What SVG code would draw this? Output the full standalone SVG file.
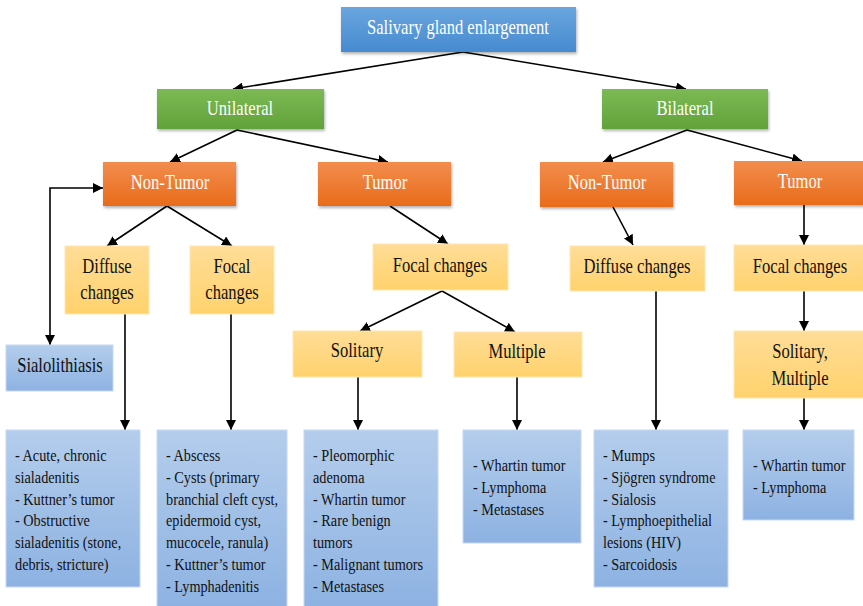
<svg xmlns="http://www.w3.org/2000/svg" width="863" height="606" viewBox="0 0 863 606">
<defs>
<linearGradient id="gBlue" x1="0" y1="0" x2="0" y2="1"><stop offset="0" stop-color="#6aa6de"/><stop offset="1" stop-color="#468ad0"/></linearGradient>
<linearGradient id="gGreen" x1="0" y1="0" x2="0" y2="1"><stop offset="0" stop-color="#7cb955"/><stop offset="1" stop-color="#62a23a"/></linearGradient>
<linearGradient id="gOrange" x1="0" y1="0" x2="0" y2="1"><stop offset="0" stop-color="#f28d4e"/><stop offset="1" stop-color="#e96c1a"/></linearGradient>
<linearGradient id="gYellow" x1="0" y1="0" x2="0" y2="1"><stop offset="0" stop-color="#ffdd98"/><stop offset="1" stop-color="#ffd26c"/></linearGradient>
<linearGradient id="gLight" x1="0" y1="0" x2="0" y2="1"><stop offset="0" stop-color="#b4cdec"/><stop offset="1" stop-color="#8db2e2"/></linearGradient>
<filter id="sh" x="-10%" y="-10%" width="130%" height="140%"><feDropShadow dx="1" dy="2" stdDeviation="1.5" flood-color="#000" flood-opacity="0.3"/></filter>
<marker id="ah" viewBox="0 0 10 10" refX="10" refY="5" markerWidth="10" markerHeight="10" markerUnits="userSpaceOnUse" orient="auto"><path d="M0,0 L10,5 L0,10 z" fill="#000"/></marker>
<marker id="ahs" viewBox="0 0 10 10" refX="10" refY="5" markerWidth="10" markerHeight="10" markerUnits="userSpaceOnUse" orient="auto-start-reverse"><path d="M0,0 L10,5 L0,10 z" fill="#000"/></marker>
</defs>
<style>
.hd{font-family:"Liberation Serif","Times New Roman",serif;font-size:21px;fill:#fff;text-anchor:middle}
.yd{font-family:"Liberation Serif","Times New Roman",serif;font-size:21px;fill:#111;text-anchor:middle}
.ls{font-family:"Liberation Serif","Times New Roman",serif;font-size:17px;fill:#111}
.blue{fill:url(#gBlue);filter:url(#sh)}
.green{fill:url(#gGreen);filter:url(#sh)}
.orange{fill:url(#gOrange);filter:url(#sh)}
.yellow{fill:url(#gYellow);stroke:#ffe7b0;stroke-width:1}
.light{fill:url(#gLight);stroke:#c6d9f1;stroke-width:1}
.cn{stroke:#000;stroke-width:1.6;fill:none;marker-end:url(#ah)}
</style>
<rect width="863" height="606" fill="#fff"/>

<g id="connectors">
<line class="cn" x1="463" y1="52" x2="233" y2="89"/>
<line class="cn" x1="463" y1="52" x2="686" y2="89"/>
<line class="cn" x1="237" y1="130" x2="170" y2="162"/>
<line class="cn" x1="237" y1="130" x2="388" y2="162"/>
<line class="cn" x1="687" y1="130" x2="603" y2="162"/>
<line class="cn" x1="687" y1="130" x2="802" y2="161"/>
<line class="cn" x1="167" y1="206" x2="107" y2="246"/>
<line class="cn" x1="167" y1="206" x2="232" y2="246"/>
<path d="M50,345 L50,188 L103,188" style="stroke:#000;stroke-width:1.6;fill:none;marker-start:url(#ahs);marker-end:url(#ah)"/>
<line class="cn" x1="390" y1="206" x2="448" y2="244"/>
<line class="cn" x1="442" y1="291" x2="360" y2="331"/>
<line class="cn" x1="442" y1="291" x2="515" y2="332"/>
<line class="cn" x1="613" y1="207" x2="633" y2="245"/>
<line class="cn" x1="804" y1="205" x2="804" y2="245"/>
<line class="cn" x1="804" y1="291" x2="804" y2="331"/>
<line class="cn" x1="125" y1="314" x2="125" y2="430"/>
<line class="cn" x1="231" y1="314" x2="231" y2="430"/>
<line class="cn" x1="358" y1="377" x2="358" y2="430"/>
<line class="cn" x1="517" y1="377" x2="517" y2="430"/>
<line class="cn" x1="656" y1="291" x2="656" y2="430"/>
<line class="cn" x1="804" y1="398" x2="804" y2="430"/>
</g>

<g id="n-root"><rect class="blue" x="341" y="7" width="235" height="45"/><text class="hd" transform="translate(458,34) scale(0.79,1)">Salivary gland enlargement</text></g>
<g id="n-unilateral"><rect class="green" x="157" y="89" width="167" height="40"/><text class="hd" transform="translate(240,115) scale(0.79,1)">Unilateral</text></g>
<g id="n-bilateral"><rect class="green" x="602" y="89" width="166" height="40"/><text class="hd" transform="translate(685,115) scale(0.79,1)">Bilateral</text></g>
<g id="n-nontumor-l"><rect class="orange" x="103" y="162" width="133" height="44"/><text class="hd" transform="translate(170,189) scale(0.79,1)">Non-Tumor</text></g>
<g id="n-tumor-l"><rect class="orange" x="318" y="162" width="133" height="44"/><text class="hd" transform="translate(385,189) scale(0.79,1)">Tumor</text></g>
<g id="n-nontumor-r"><rect class="orange" x="540" y="162" width="133" height="45"/><text class="hd" transform="translate(607,189) scale(0.79,1)">Non-Tumor</text></g>
<g id="n-tumor-r"><rect class="orange" x="734" y="161" width="135" height="44"/><text class="hd" transform="translate(800,188) scale(0.79,1)">Tumor</text></g>

<g id="n-diffuse-l"><rect class="yellow" x="65" y="246" width="84" height="68"/><text class="yd" transform="translate(107,273) scale(0.79,1)">Diffuse</text><text class="yd" transform="translate(107,299) scale(0.79,1)">changes</text></g>
<g id="n-focal-l"><rect class="yellow" x="190" y="246" width="84" height="68"/><text class="yd" transform="translate(232,273) scale(0.79,1)">Focal</text><text class="yd" transform="translate(232,299) scale(0.79,1)">changes</text></g>
<g id="n-focal-m"><rect class="yellow" x="373" y="244" width="135" height="46"/><text class="yd" transform="translate(440,272) scale(0.79,1)">Focal changes</text></g>
<g id="n-solitary"><rect class="yellow" x="293" y="331" width="129" height="46"/><text class="yd" transform="translate(357,357) scale(0.79,1)">Solitary</text></g>
<g id="n-multiple"><rect class="yellow" x="454" y="332" width="128" height="45"/><text class="yd" transform="translate(517,358) scale(0.79,1)">Multiple</text></g>
<g id="n-diffuse-r"><rect class="yellow" x="570" y="246" width="135" height="45"/><text class="yd" transform="translate(637,273) scale(0.79,1)">Diffuse changes</text></g>
<g id="n-focal-r"><rect class="yellow" x="734" y="245" width="135" height="46"/><text class="yd" transform="translate(800,273) scale(0.79,1)">Focal changes</text></g>
<g id="n-solmul"><rect class="yellow" x="734" y="331" width="135" height="67"/><text class="yd" transform="translate(800,358) scale(0.79,1)">Solitary,</text><text class="yd" transform="translate(800,385) scale(0.79,1)">Multiple</text></g>

<g id="n-sialolithiasis"><rect class="light" x="6" y="345" width="107" height="46"/><text class="yd" transform="translate(60,372) scale(0.79,1)">Sialolithiasis</text></g>

<g id="n-list1"><rect class="light" x="6" y="430" width="134" height="157"/>
<text class="ls" transform="translate(15,0) scale(0.84,1)"><tspan x="0" y="461">- Acute, chronic</tspan><tspan x="0" y="482.8">sialadenitis</tspan><tspan x="0" y="504.6">- Kuttner’s tumor</tspan><tspan x="0" y="526.4">- Obstructive</tspan><tspan x="0" y="548.2">sialadenitis (stone,</tspan><tspan x="0" y="570">debris, stricture)</tspan></text></g>
<g id="n-list2"><rect class="light" x="157" y="430" width="130" height="178"/>
<text class="ls" transform="translate(166,0) scale(0.84,1)"><tspan x="0" y="461">- Abscess</tspan><tspan x="0" y="482.8">- Cysts (primary</tspan><tspan x="0" y="504.6">branchial cleft cyst,</tspan><tspan x="0" y="526.4">epidermoid cyst,</tspan><tspan x="0" y="548.2">mucocele, ranula)</tspan><tspan x="0" y="570">- Kuttner’s tumor</tspan><tspan x="0" y="591.8">- Lymphadenitis</tspan></text></g>
<g id="n-list3"><rect class="light" x="304" y="430" width="134" height="178"/>
<text class="ls" transform="translate(313,0) scale(0.84,1)"><tspan x="0" y="461">- Pleomorphic</tspan><tspan x="0" y="482.8">adenoma</tspan><tspan x="0" y="504.6">- Whartin tumor</tspan><tspan x="0" y="526.4">- Rare benign</tspan><tspan x="0" y="548.2">tumors</tspan><tspan x="0" y="570">- Malignant tumors</tspan><tspan x="0" y="591.8">- Metastases</tspan></text></g>
<g id="n-list4"><rect class="light" x="463" y="430" width="118" height="113"/>
<text class="ls" transform="translate(473,0) scale(0.84,1)"><tspan x="0" y="471">- Whartin tumor</tspan><tspan x="0" y="492.8">- Lymphoma</tspan><tspan x="0" y="514.6">- Metastases</tspan></text></g>
<g id="n-list5"><rect class="light" x="594" y="430" width="134" height="157"/>
<text class="ls" transform="translate(603,0) scale(0.84,1)"><tspan x="0" y="461">- Mumps</tspan><tspan x="0" y="482.8">- Sjögren syndrome</tspan><tspan x="0" y="504.6">- Sialosis</tspan><tspan x="0" y="526.4">- Lymphoepithelial</tspan><tspan x="0" y="548.2">lesions (HIV)</tspan><tspan x="0" y="570">- Sarcoidosis</tspan></text></g>
<g id="n-list6"><rect class="light" x="743" y="430" width="111" height="90"/>
<text class="ls" transform="translate(753,0) scale(0.84,1)"><tspan x="0" y="471">- Whartin tumor</tspan><tspan x="0" y="492.8">- Lymphoma</tspan></text></g>
</svg>
